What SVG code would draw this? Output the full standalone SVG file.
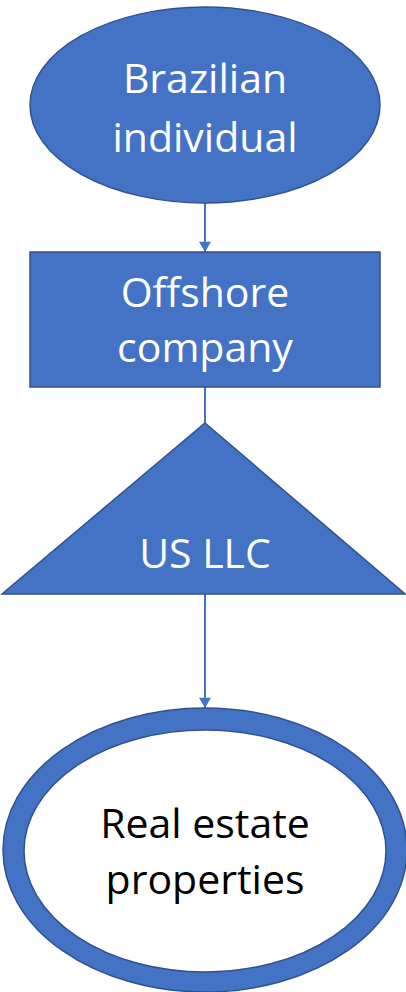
<svg xmlns="http://www.w3.org/2000/svg" width="406" height="992" viewBox="0 0 406 992">
<style>
.shape{fill:#4472C4;stroke:#2F528F;stroke-width:1.5}
.conn{stroke:#4472C4;stroke-width:2;fill:none}
.lbl{font-family:"Open Sans","Noto Sans",sans-serif;font-size:41px;text-anchor:middle;fill:#fff}
.dark{fill:#000}
</style>
<defs>
<marker id="arr" viewBox="0 0 12 14" refX="12" refY="7" markerWidth="14" markerHeight="12" markerUnits="userSpaceOnUse" orient="auto">
<path d="M0,0 L12,7 L0,14 z" fill="#4472C4"/>
</marker>
</defs>
<rect width="406" height="992" fill="#fff"/>
<g id="connectors">
<line class="conn" x1="205" y1="203" x2="205" y2="252" marker-end="url(#arr)"/>
<line class="conn" x1="205" y1="387" x2="205" y2="423"/>
<line class="conn" x1="205" y1="594" x2="205" y2="708" marker-end="url(#arr)"/>
</g>
<g id="brazilian-individual">
<ellipse class="shape" cx="205" cy="105" rx="175" ry="98"/>
<text class="lbl" x="205" y="93">Brazilian</text>
<text class="lbl" x="205" y="152">individual</text>
</g>
<g id="offshore-company">
<rect class="shape" x="30" y="252" width="350" height="135"/>
<text class="lbl" x="205" y="307">Offshore</text>
<text class="lbl" x="205" y="362">company</text>
</g>
<g id="us-llc">
<polygon class="shape" points="205,423 405,594 2,594"/>
<text class="lbl" x="205" y="568">US LLC</text>
</g>
<g id="real-estate">
<ellipse cx="205" cy="850" rx="202" ry="142" fill="#4472C4" stroke="#2F528F" stroke-width="1.5"/>
<ellipse cx="205" cy="851" rx="181" ry="121" fill="#fff" stroke="#2F528F" stroke-width="1.5"/>
<text class="lbl dark" x="205" y="838">Real estate</text>
<text class="lbl dark" x="205" y="894">properties</text>
</g>
</svg>
